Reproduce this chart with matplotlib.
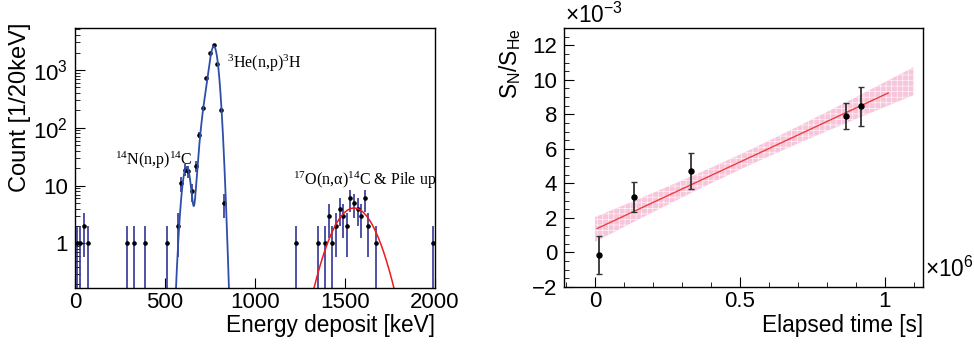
import numpy as np
import matplotlib
matplotlib.use('Agg')
import matplotlib.pyplot as plt
from matplotlib.ticker import MultipleLocator, FixedLocator, FixedFormatter, LogLocator, NullFormatter

plt.rcParams['font.family'] = ['Liberation Sans', 'DejaVu Sans']
plt.rcParams['mathtext.fontset'] = 'custom'
plt.rcParams['mathtext.rm'] = 'Liberation Sans'
plt.rcParams['hatch.linewidth'] = 0.5

# ---- left panel: energy spectrum (20 keV bins) ----
energy = [10, 30, 50, 70, 290, 330, 390, 510,
          570, 590, 610, 630, 650, 670, 690, 710, 730, 750, 770, 790, 810, 830,
          1230, 1350, 1390, 1410, 1430, 1450, 1470, 1490, 1510, 1530, 1550,
          1570, 1590, 1610, 1630, 1670, 1990]
counts = [1, 1, 2, 1, 1, 1, 1, 1,
          2, 11, 19, 18, 8, 22, 75, 224, 730, 1940, 2700, 1260, 204, 5,
          1, 1, 1, 3, 1, 2, 4, 3, 2, 6, 5,
          4, 3, 6, 2, 1, 1]

# fit parameters (amplitude, mean, sigma) of the gaussian components
blue_amp = [21, 2300, 450]
blue_mean = [620, 773, 745]
blue_sigma = [19, 18.5, 26]
red_amp, red_mean, red_sigma = 4.1, 1550, 88

# ---- right panel: S_N/S_He vs elapsed time ----
time = [0.015, 0.133, 0.332, 0.866, 0.916]     # x 1e6 s
ratio = [-0.13, 3.23, 4.70, 7.90, 8.46]        # x 1e-3
ratio_err = [1.1, 0.88, 1.05, 0.73, 1.13]
fit_p0, fit_p1 = 1.33, 7.82
band_a, band_k, band_t0 = 0.44, 1.14, 0.5

fig = plt.figure(figsize=(9.74, 3.46), dpi=100)
ax1 = fig.add_axes([0.077, 0.1676, 0.3696, 0.7514])
ax2 = fig.add_axes([0.579, 0.1705, 0.3686, 0.7485])

tick_fs = 16
label_fs = 16.3
for ax in (ax1, ax2):
    ax.tick_params(which='both', direction='in', top=False, right=False,
                   labelsize=tick_fs)
    ax.tick_params(axis='x', pad=3)
    ax.tick_params(axis='y', pad=5)
    ax.tick_params(which='major', length=7)
    ax.tick_params(which='minor', length=3.5)
    for s in ax.spines.values():
        s.set_linewidth(1.0)

# left
e = np.array(energy, float)
c = np.array(counts, float)
err = np.sqrt(c)
lo = np.where(err >= c, c - 1e-3, err)
ax1.errorbar(e, c, yerr=[lo, err], fmt='none', ecolor='#23238f', elinewidth=1.1)
ax1.plot(e, c, 'o', color='black', ms=2.3)

xb = np.linspace(520, 900, 800)
yb = sum(a * np.exp(-(xb - m) ** 2 / (2 * s ** 2))
         for a, m, s in zip(blue_amp, blue_mean, blue_sigma))
ax1.plot(xb, yb, color='#2d4fa8', lw=1.3)
xr = np.linspace(1250, 1850, 600)
yr = red_amp * np.exp(-(xr - red_mean) ** 2 / (2 * red_sigma ** 2))
ax1.plot(xr, yr, color='#f01818', lw=1.1)

ax1.set_yscale('log')
ax1.set_xlim(0, 2000)
ax1.set_ylim(0.17, 5300)
ax1.xaxis.set_major_locator(MultipleLocator(500))
ax1.yaxis.set_major_locator(FixedLocator([1, 10, 100, 1000]))
ax1.yaxis.set_major_formatter(FixedFormatter(['1', '10', r'$\mathregular{10^{2}}$', r'$\mathregular{10^{3}}$']))
ax1.yaxis.set_minor_locator(LogLocator(base=10, subs=np.arange(2, 10)))
ax1.yaxis.set_minor_formatter(NullFormatter())

serif = ['Liberation Serif', 'DejaVu Serif']
ax1.text(844, 1080, r'$\mathregular{^{3}}$He(n,p)$\mathregular{^{3}}$H', family=serif, fontsize=11.5, va='baseline')
ax1.text(222, 23, r'$\mathregular{^{14}}$N(n,p)$\mathregular{^{14}}$C', family=serif, fontsize=11.5, va='baseline')
ax1.text(1211, 10.4, r'$\mathregular{^{17}}$O(n,α)$\mathregular{^{14}}$C & Pile up', family=serif, fontsize=11.5, va='baseline')

fig.text(435 / 974, 1 - 332 / 346, 'Energy deposit [keV]', ha='right', va='baseline', fontsize=label_fs)
fig.text(20 / 974, 1 - 107 / 346, 'Count [1/20keV]', rotation=90, ha='center', va='center', fontsize=17)

# right
tb = np.linspace(0, 1.098, 200)
center = fit_p0 + fit_p1 * tb
half = np.sqrt(band_a ** 2 + (band_k * (tb - band_t0)) ** 2)
ax2.fill_between(tb, center - half, center + half, facecolor='#f7b8d2', edgecolor='white',
                 hatch='+++', linewidth=0, alpha=0.8)
tl = np.linspace(0.008, 1.011, 50)
ax2.plot(tl, fit_p0 + fit_p1 * tl, color='#f03c3c', lw=1.0)
ax2.errorbar(time, ratio, yerr=ratio_err, fmt='o', color='black', ms=3.6,
             ecolor='#333333', elinewidth=1.3, capsize=2, capthick=1.0)

ax2.set_xlim(-0.107, 1.131)
ax2.set_ylim(-2, 13)
ax2.xaxis.set_major_locator(MultipleLocator(0.5))
ax2.xaxis.set_minor_locator(MultipleLocator(0.1))
ax2.yaxis.set_major_locator(MultipleLocator(2))
ax2.yaxis.set_minor_locator(MultipleLocator(0.5))
ax2.xaxis.set_major_formatter(plt.FuncFormatter(lambda v, p: '%g' % round(v, 2)))
ax2.yaxis.set_major_formatter(plt.FuncFormatter(lambda v, p: ('\u2212%d' % -v) if v < 0 else '%d' % v))

fig.text(923 / 974, 1 - 332 / 346, 'Elapsed time [s]', ha='right', va='baseline', fontsize=label_fs)
fig.text(510 / 974, 1 - 28 / 346, r'$\mathregular{S_{N}/S_{He}}$', rotation=90, ha='center', va='top', fontsize=label_fs)
fig.text(565 / 974, 1 - 23 / 346, r'$\mathregular{\times10^{-3}}$', ha='left', va='baseline', fontsize=label_fs)
fig.text(925 / 974, 1 - 277 / 346, r'$\mathregular{\times10^{6}}$', ha='left', va='baseline', fontsize=label_fs)

fig.savefig('out.png', dpi=100)
